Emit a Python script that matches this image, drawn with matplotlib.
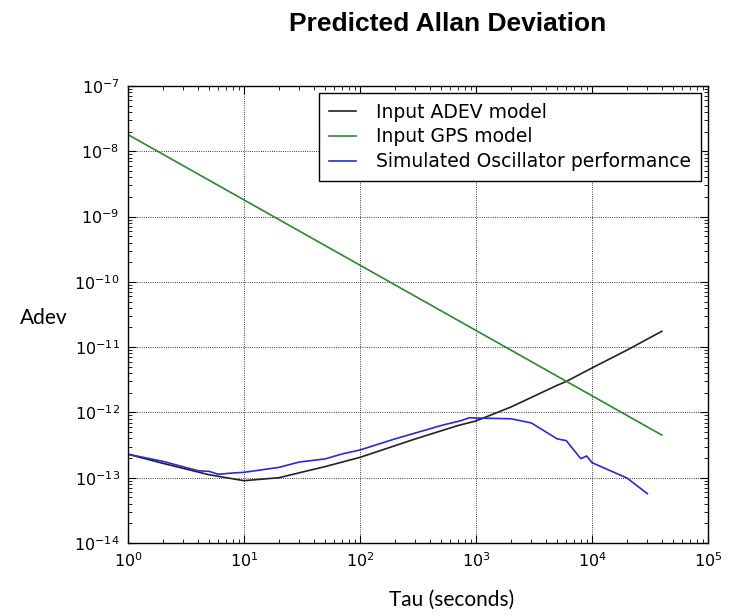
import matplotlib
matplotlib.use("Agg")
import matplotlib.pyplot as plt
import matplotlib.ticker as mticker

# values (tau in seconds)
adev_tau = [1, 2, 5, 10, 20, 50, 100, 300, 700, 1000, 2000, 5000, 6000, 10000, 20000, 40000]
adev_model = [2.29e-13, 1.66e-13, 1.11e-13, 9.0e-14, 1.0e-13, 1.48e-13, 2.05e-13,
              3.93e-13, 6.3e-13, 7.4e-13, 1.21e-12, 2.6e-12, 2.98e-12, 4.8e-12,
              9.0e-12, 1.75e-11]

gps_tau = [1, 10, 100, 1000, 10000, 40000]
gps_model = [1.8e-8, 1.8e-9, 1.8e-10, 1.8e-11, 1.8e-12, 4.5e-13]

sim_tau = [1, 2, 4, 5, 6, 8, 10, 20, 30, 50, 70, 100, 200, 500, 744, 877, 1000,
           2000, 3000, 5000, 6000, 8000, 9000, 10000, 20000, 30000]
sim_adev = [2.29e-13, 1.78e-13, 1.28e-13, 1.25e-13, 1.13e-13, 1.18e-13, 1.21e-13,
            1.44e-13, 1.74e-13, 1.94e-13, 2.31e-13, 2.66e-13, 3.93e-13, 6.3e-13,
            7.5e-13, 8.3e-13, 8.2e-13, 8.0e-13, 6.9e-13, 3.94e-13, 3.7e-13,
            1.96e-13, 2.15e-13, 1.7e-13, 9.9e-14, 5.7e-14]

labels = ["Input ADEV model", "Input GPS model", "Simulated Oscillator performance"]

fig = plt.figure(figsize=(7.4, 6.16), dpi=100)
fig.patch.set_facecolor("white")
ax = fig.add_axes([128 / 740, 1 - 543 / 616, 580 / 740, 457 / 616])

ax.loglog(adev_tau, adev_model, color="#222222", lw=1.2, label=labels[0])
ax.loglog(gps_tau, gps_model, color="#2e862e", lw=1.2, label=labels[1])
ax.loglog(sim_tau, sim_adev, color="#2a2ad0", lw=1.2, label=labels[2])

ax.set_xlim(1, 1e5)
ax.set_ylim(1e-14, 1e-7)
ax.xaxis.set_major_locator(mticker.LogLocator(base=10, numticks=10))
ax.yaxis.set_major_locator(mticker.LogLocator(base=10, numticks=10))

ax.grid(True, which="major", color="k", linestyle=":", linewidth=0.6)
ax.tick_params(which="both", direction="in", top=True, right=True, labelsize=11.5, pad=6)
ax.tick_params(which="major", length=6, width=0.8)
ax.tick_params(which="minor", length=3, width=0.6)
for sp in ax.spines.values():
    sp.set_linewidth(1.0)

leg = ax.legend(loc="upper right", fontsize=13.5, fancybox=False, framealpha=1,
                edgecolor="k", handlelength=1.45, handletextpad=1.05,
                borderaxespad=0.35, labelspacing=0.3, borderpad=0.55)
leg.get_frame().set_linewidth(1.0)

fig.text(447.5 / 740, 1 - 31 / 616, "Predicted Allan Deviation", ha="center", va="baseline",
         fontsize=19, fontweight="bold", family="Liberation Sans")
fig.text(44 / 740, 1 - 318 / 616, "Adev", ha="center", va="center",
         fontsize=15, family="Lato")
fig.text(452 / 740, 1 - 600 / 616, "Tau (seconds)", ha="center", va="center",
         fontsize=15, family="Lato")

fig.savefig("out.png", dpi=100, facecolor="white")
